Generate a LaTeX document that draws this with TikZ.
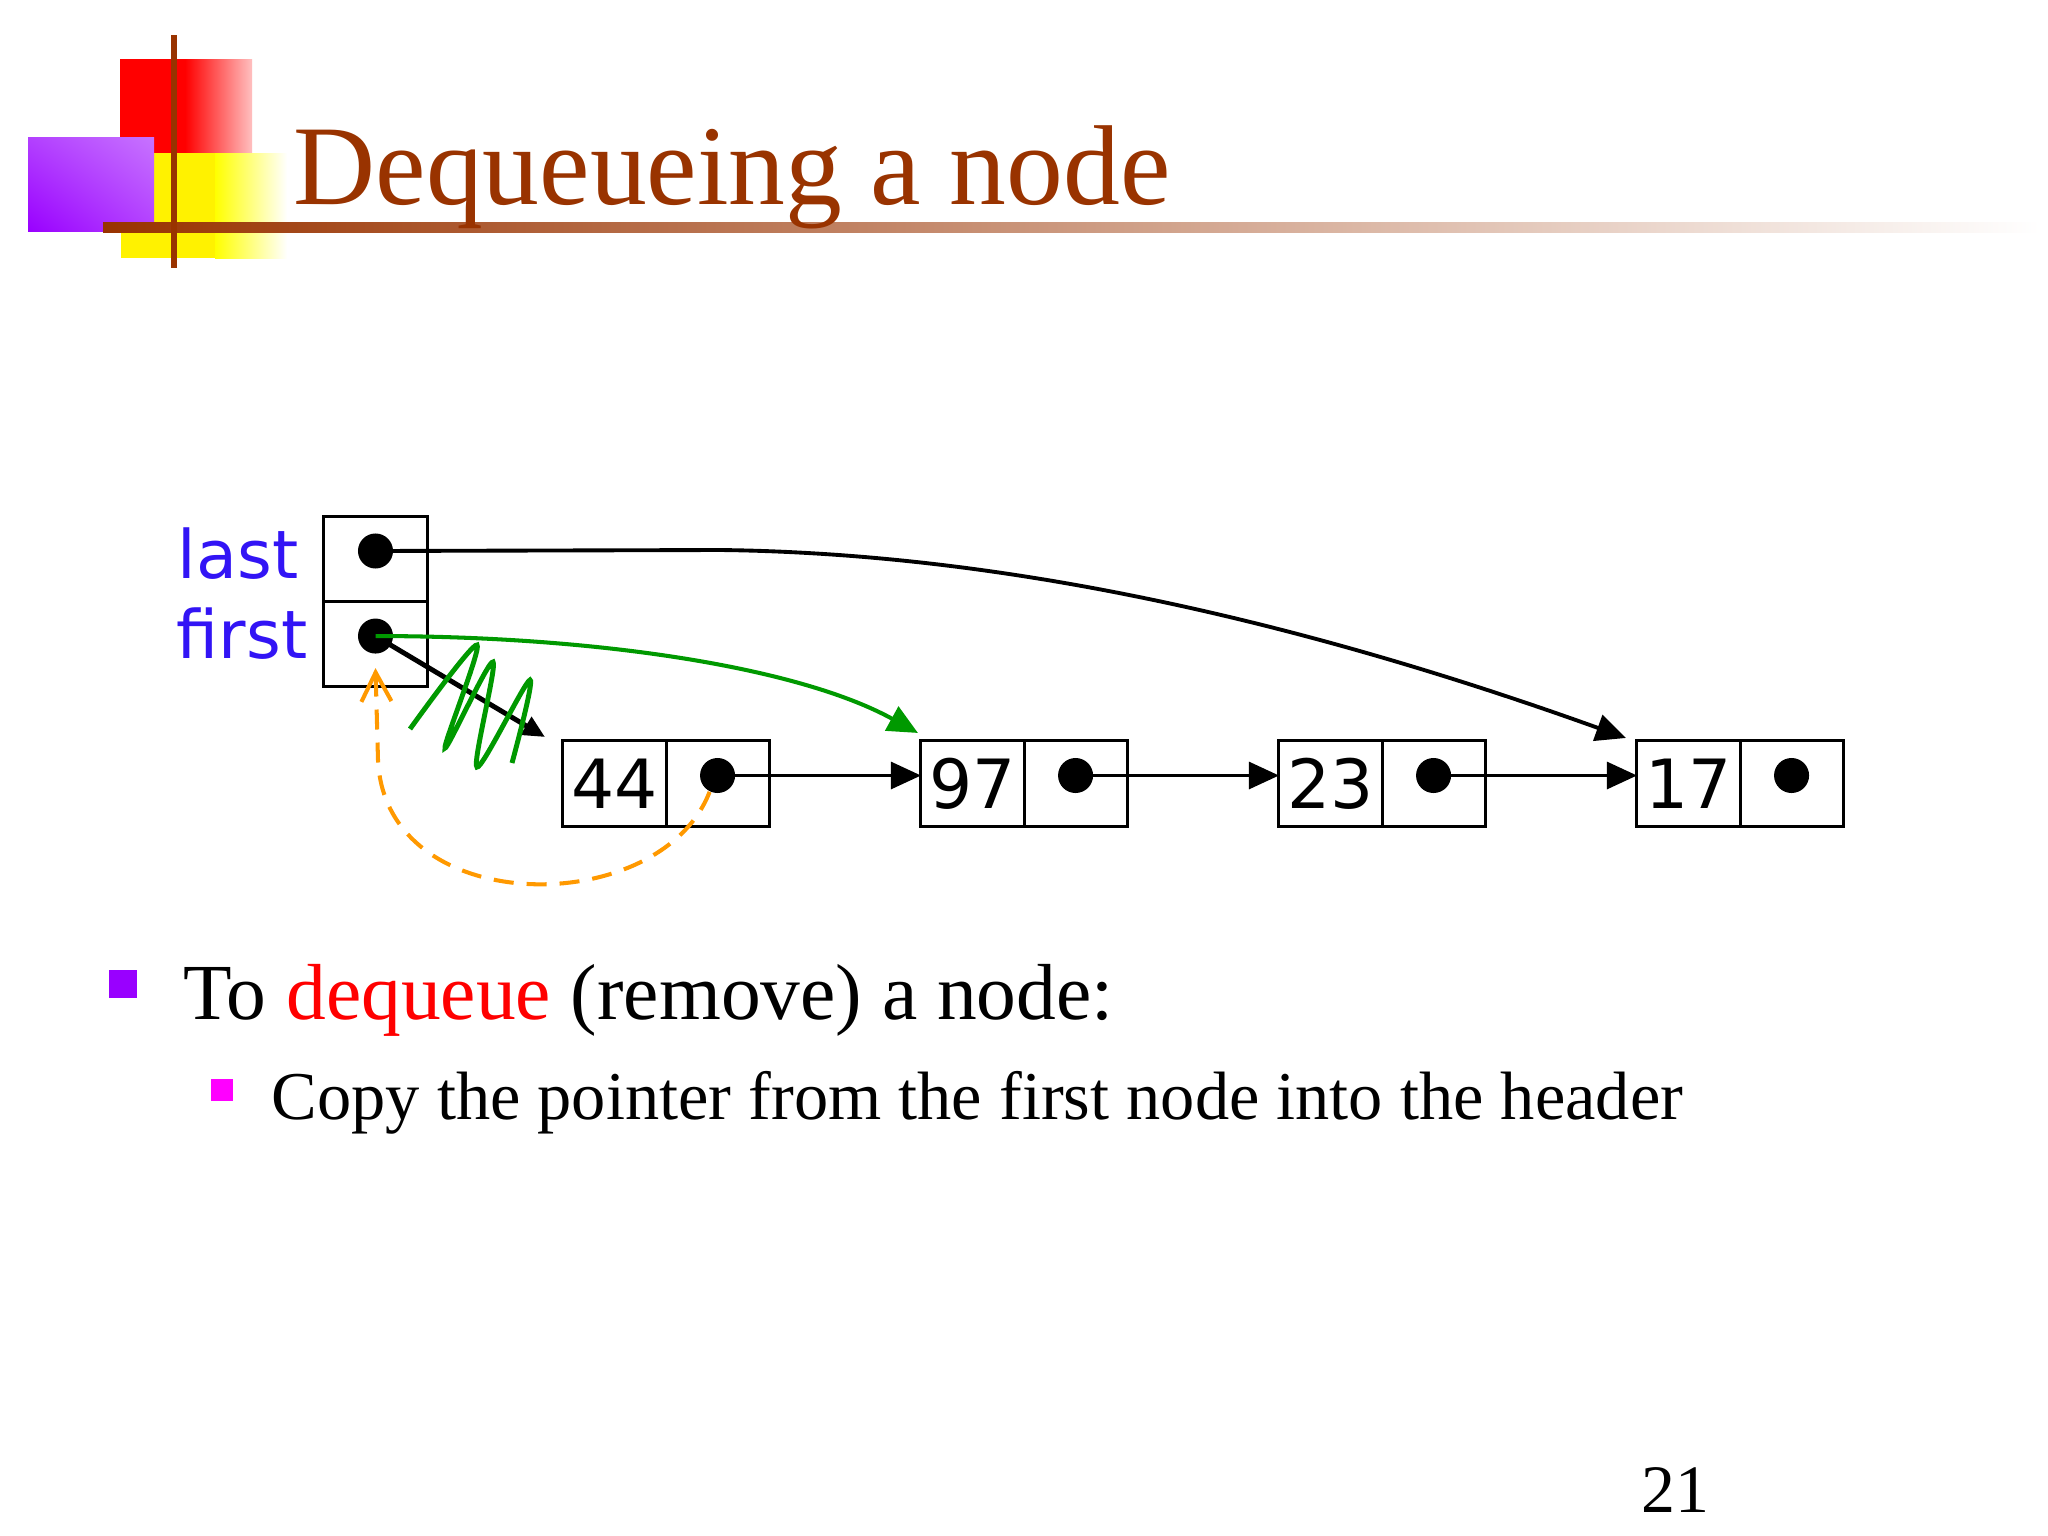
\documentclass[tikz,border=0pt]{standalone}
\usepackage{fontspec}
\setmainfont{Liberation Serif}
\newfontfamily\verdana{DejaVu Sans}
\usetikzlibrary{positioning,arrows.meta,shadings}
\definecolor{titlebrown}{HTML}{993300}
\definecolor{lblblue}{RGB}{50,20,245}
\definecolor{ptrgreen}{HTML}{009900}
\definecolor{backorange}{HTML}{FF9900}
\definecolor{bulletpurple}{HTML}{9900FF}
\definecolor{bulletpink}{HTML}{FF00FF}

\begin{document}
\begin{tikzpicture}[x=0.01cm,y=-0.01cm,
    cell/.style={draw,line width=0.85pt,minimum width=1.03cm,minimum height=0.85cm,inner sep=0pt,outer sep=0pt,font=\verdana\fontsize{19.3}{22}\selectfont},
    dot/.style={circle,fill,inner sep=0pt,minimum size=0.35cm},
    lbl/.style={anchor=base west,inner sep=0pt,text=lblblue,font=\verdana\fontsize{19}{22}\selectfont},
    link/.style={line width=0.8pt,-{Triangle[length=0.3cm,width=0.27cm]}}]
\fill[white] (0,0) rectangle (2048,1536);
\useasboundingbox (0,0) rectangle (2048,1536);
% logo squares and rules
\fill[red] (120,59) rectangle (185,154);
\shade[left color=red,right color=red!25] (185,59) rectangle (252,154);
\fill[yellow] (121,153) rectangle (215,258);
\shade[left color=yellow,right color=white] (215,153) rectangle (287,258);
\shade[lower left=bulletpurple,upper right=bulletpurple!55,upper left=bulletpurple!75,lower right=bulletpurple!75] (28,137) rectangle (154,231);
\shade[left color=titlebrown,right color=white] (103,222) rectangle (2040,232);
\draw[titlebrown,line width=0.06cm] (174,35) -- (174,268);
\node[anchor=base west,inner sep=0pt,text=titlebrown,font=\fontsize{32.3}{38}\selectfont] (title) at (293,204) {Dequeueing a node};
% header
\node[cell] (hlast) at (375.5,559) {};
\node[cell,below=0pt of hlast] (hfirst) {};
\node[dot] (dlast) at ([yshift=0.08cm]hlast.center) {};
\node[dot] (dfirst) at ([yshift=0.08cm]hfirst.center) {};
\node[lbl] (lastlbl) at (177,578) {last};
\node[lbl] (firstlbl) at (176,658) {first};
% the queue
\foreach \val [count=\i from 0] in {44,97,23,17}{
  \node[cell] (v\val) at (614.5+358*\i,783.5) {\val};
  \node[cell,right=0pt of v\val] (p\val) {};
  \node[dot] (d\val) at ([yshift=0.08cm]p\val.center) {};
}
\foreach \a/\b in {44/97,97/23,23/17}
  \draw[link] (d\a.center) -- (d\a.center -| v\b.west);
\draw[line width=1.1pt,-{Triangle[length=0.3cm,width=0.27cm]}] (dlast.center) -- (720,550) .. controls (980,553) and (1270,610) .. ([xshift=-0.11cm,yshift=0.03cm]v17.north west);
\draw[line width=1.4pt,-{Triangle[length=0.22cm,width=0.2cm]}] (dfirst.center) -- ([xshift=-0.18cm,yshift=0.04cm]v44.north west);
\draw[ptrgreen,line width=1.15pt,-{Triangle[length=0.3cm,width=0.27cm]}] (dfirst.center) .. controls (600,636) and (800,668) .. ([xshift=-0.03cm,yshift=0.08cm]v97.north west);
\draw[ptrgreen,line width=1.4pt] plot[smooth,tension=0.5] coordinates {(410,729) (477,645) (445,748) (493,662) (477,767) (530,680) (512,763)};
\coordinate (back) at ([yshift=-0.32cm]dfirst.center);
\draw[backorange,line width=1.15pt,dash pattern=on 0.2cm off 0.13cm,-{Straight Barb[length=0.29cm,width=0.3cm]}] (d44.244) .. controls (660,920) and (385,920) .. (378,760) -- (back);
% text
\fill[bulletpurple] (109,970) rectangle (137,998);
\node[anchor=base west,inner sep=0pt,font=\fontsize{22.6}{27}\selectfont] (bullet) at (183,1019) {To \textcolor{red}{dequeue} (remove) a node:};
\fill[bulletpink] (211,1079) rectangle (233,1101);
\node[anchor=base west,inner sep=0pt,font=\fontsize{19.45}{23}\selectfont] (subbullet) at (271,1119) {Copy the pointer from the first node into the header};
\node[anchor=base west,inner sep=0pt,font=\fontsize{19.3}{23}\selectfont] (pageno) at (1641,1512) {21};
\end{tikzpicture}
\end{document}
